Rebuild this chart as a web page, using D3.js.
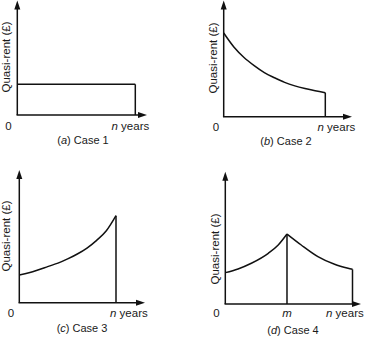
<!DOCTYPE html>
<html>
<head>
<meta charset="utf-8">
<script src="https://cdn.jsdelivr.net/npm/d3@7/dist/d3.min.js"></script>
<style>
  html, body { margin: 0; padding: 0; background: #fff; }
  svg { display: block; }
  text { font-family: "Liberation Sans", Arial, Helvetica, sans-serif; fill: #1a1a1a; }
</style>
</head>
<body>
<svg id="chart" width="372" height="337"></svg>
<script>
// ---------------- DATA (y in arbitrary units 0-10, x in 0..n=10) ----------------
const panelIds = ["a", "b", "c", "d"];
const captions = ["Case 1", "Case 2", "Case 3", "Case 4"];
const yAxisLabel = "Quasi-rent (£)";
const xEndLabel = "years";
const xEndSymbol = "n";
const originLabel = "0";
const midSymbol = "m";

// Case 1: constant quasi-rent
const case1X = [0, 10];
const case1Y = [2.68, 2.68];

// Case 2: declining quasi-rent
const case2X = [0, 1, 2, 3, 4, 5, 6, 7, 8, 9, 10];
const case2Y = [7.2, 6.0, 5.1, 4.4, 3.8, 3.35, 2.95, 2.65, 2.42, 2.23, 2.07];

// Case 3: rising quasi-rent
const case3X = [0, 1, 2, 3, 4, 5, 6, 7, 8, 9, 10];
const case3Y = [2.09, 2.25, 2.48, 2.74, 2.98, 3.3, 3.67, 4.12, 4.7, 5.42, 6.56];

// Case 4: rising to m, then declining
const case4Xm = 4.85;
const case4RiseX = [0, 1.0, 2.05, 3.38, 4.16, 4.85];
const case4RiseY = [2.37, 2.65, 3.08, 3.83, 4.46, 5.29];
const case4FallX = [4.85, 5.97, 7.28, 8.59, 9.65, 10];
const case4FallY = [5.29, 4.46, 3.58, 3.0, 2.70, 2.62];

// ---------------- LAYOUT ----------------
const layout = {
  a: { ox: 17.3, oy: 115,   xn: 135.3, yTip: 0.5,   xTip: 147,
       zeroX: 8.5,  zeroY: 129.5, nX: 111.5, nY: 129.5, capX: 83,  capY: 143.5, labX: 10,  labY: 57 },
  b: { ox: 223.7, oy: 116.7, xn: 325.3, yTip: 0.5,  xTip: 352,
       zeroX: 216, zeroY: 130.5, nX: 317.5, nY: 130.5, capX: 286, capY: 145, labX: 216.5, labY: 58 },
  c: { ox: 19.3, oy: 302.7, xn: 116,   yTip: 170,   xTip: 145,
       zeroX: 11,  zeroY: 316.5, nX: 110, nY: 316.5, capX: 82,  capY: 332, labX: 9.5, labY: 236 },
  d: { ox: 225.3, oy: 304,  xn: 352.5, yTip: 171.7, xTip: 361,
       zeroX: 216.5, zeroY: 317, nX: 326, nY: 317, capX: 293, capY: 333.5, labX: 218.5, labY: 249 }
};

const svg = d3.select("#chart");
const SW = 1.5;
const INK = "#111";

function arrowUp(g, x, y) {
  g.append("path").attr("d", `M${x},${y} L${x - 3},${y + 9} L${x + 3},${y + 9} Z`).attr("fill", INK);
}
function arrowRight(g, x, y) {
  g.append("path").attr("d", `M${x},${y} L${x - 9},${y - 3} L${x - 9},${y + 3} Z`).attr("fill", INK);
}

const seriesById = {
  a: [{ x: case1X, y: case1Y }],
  b: [{ x: case2X, y: case2Y }],
  c: [{ x: case3X, y: case3Y }],
  d: [{ x: case4RiseX, y: case4RiseY }, { x: case4FallX, y: case4FallY }]
};

panelIds.forEach((id, i) => {
  const L = layout[id];
  const g = svg.append("g");
  const xs = d3.scaleLinear().domain([0, 10]).range([L.ox, L.xn]);
  const ys = d3.scaleLinear().domain([0, 10]).range([L.oy, L.yTip]);

  // axes
  g.append("line").attr("x1", L.ox).attr("y1", L.oy).attr("x2", L.ox).attr("y2", L.yTip + 6)
    .attr("stroke", INK).attr("stroke-width", SW);
  arrowUp(g, L.ox, L.yTip);
  g.append("line").attr("x1", L.ox - 0.75).attr("y1", L.oy).attr("x2", L.xTip - 6).attr("y2", L.oy)
    .attr("stroke", INK).attr("stroke-width", SW);
  arrowRight(g, L.xTip, L.oy);

  // curves
  const line = d3.line().x(d => xs(d[0])).y(d => ys(d[1]))
    .curve(id === "a" ? d3.curveLinear : d3.curveMonotoneX);
  const series = seriesById[id];
  series.forEach(s => {
    const pts = s.x.map((v, k) => [v, s.y[k]]);
    g.append("path").attr("d", line(pts)).attr("fill", "none")
      .attr("stroke", INK).attr("stroke-width", SW).attr("stroke-linejoin", "miter");
  });

  // closing vertical at n
  const last = series[series.length - 1];
  const endX = last.x[last.x.length - 1], endY = last.y[last.y.length - 1];
  g.append("line").attr("x1", xs(endX)).attr("y1", ys(endY)).attr("x2", xs(endX)).attr("y2", L.oy)
    .attr("stroke", INK).attr("stroke-width", SW);

  // vertical at m for case 4
  if (id === "d") {
    const peakY = case4RiseY[case4RiseY.length - 1];
    g.append("line").attr("x1", xs(case4Xm)).attr("y1", ys(peakY)).attr("x2", xs(case4Xm)).attr("y2", L.oy)
      .attr("stroke", INK).attr("stroke-width", SW);
    g.append("text").attr("x", xs(case4Xm)).attr("y", L.nY).attr("text-anchor", "middle")
      .attr("font-size", 11.5).attr("font-style", "italic").text(midSymbol);
  }

  // texts
  g.append("text").attr("x", L.zeroX).attr("y", L.zeroY).attr("text-anchor", "middle")
    .attr("font-size", 11.5).text(originLabel);
  const nt = g.append("text").attr("x", L.nX).attr("y", L.nY).attr("font-size", 11.5);
  nt.append("tspan").attr("font-style", "italic").text(xEndSymbol);
  nt.append("tspan").text(" " + xEndLabel);

  const ct = g.append("text").attr("x", L.capX).attr("y", L.capY).attr("text-anchor", "middle").attr("font-size", 11);
  ct.append("tspan").text("(");
  ct.append("tspan").attr("font-style", "italic").text(id);
  ct.append("tspan").text(") " + captions[i]);

  g.append("text").attr("transform", `translate(${L.labX},${L.labY}) rotate(-90)`)
    .attr("text-anchor", "middle").attr("font-size", 11.5).text(yAxisLabel);
});
</script>
</body>
</html>
